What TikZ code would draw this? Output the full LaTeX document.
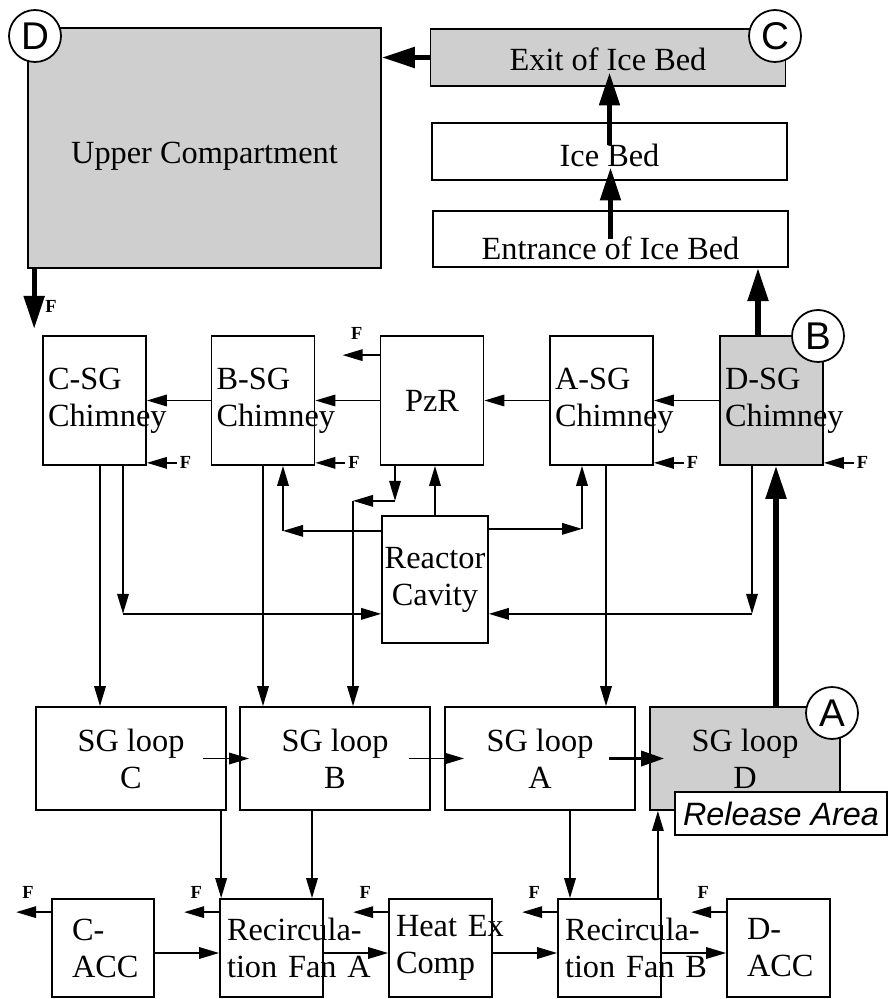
\documentclass[tikz,border=0pt]{standalone}
\usepackage{fontspec}
\setmainfont{Liberation Serif}
\setsansfont{Liberation Sans}
\usetikzlibrary{arrows.meta,calc,positioning}
\hyphenpenalty=10000
\exhyphenpenalty=10000

\begin{document}
\begin{tikzpicture}[x=0.02cm, y=-0.02cm,
    every node/.style={font=\fontsize{18.4}{21}\selectfont},
    blk/.style={draw, line width=1pt, inner sep=0pt},
    gfill/.style={fill=black!19},
    bed/.style={blk, minimum width=7.1cm, minimum height=1.13cm, text depth=0pt},
    chim/.style={blk, text width=1.86cm, inner xsep=0.1cm, minimum height=2.58cm, align=left},
    sgbox/.style={blk, minimum width=3.8cm, minimum height=2.06cm, align=center},
    low/.style={blk, text width=1.78cm, inner xsep=0.14cm, minimum height=1.96cm, align=left},
    tag/.style={circle, draw, line width=1pt, fill=white, minimum size=1.04cm, inner sep=0pt,
        font=\sffamily\fontsize{22}{22}\selectfont},
    flab/.style={font=\bfseries\fontsize{10.5}{10.5}\selectfont, inner sep=1.5pt},
    arr/.style={line width=1pt, -{Stealth[inset=0pt, length=0.4cm, width=0.23cm]}},
    medarr/.style={line width=2pt, -{Stealth[inset=0pt, length=0.46cm, width=0.3cm]}},
    fatarr/.style={line width=3pt, -{Stealth[inset=0pt, length=0.66cm, width=0.4cm]}}]
    \useasboundingbox (0,0) rectangle (889,999);
    % ice condenser
    \node[blk, gfill, minimum width=7.06cm, minimum height=4.8cm, text height=0.64cm, text depth=0pt] (upc) at (204.5,148) {Upper Compartment};
    \node[bed, gfill, text height=0.54cm] (exit) at (608,57.5) {Exit of Ice Bed};
    \node[bed, text height=0.62cm] (ice) at (609.5,151.5) {Ice Bed};
    \node[bed, text height=0.84cm] (entr) at (610.5,239) {Entrance of Ice Bed};
    % chimneys
    \node[chim] (csg) at (94.5,400.5) {C-SG\\Chimney};
    \node[chim] (bsg) at (263,400.5) {B-SG\\Chimney};
    \node[chim, align=center] (pzr) at (432,400.5) {PzR};
    \node[chim] (asg) at (601.5,400.5) {A-SG\\Chimney};
    \node[chim, gfill] (dsg) at (771.5,400.5) {D-SG\\Chimney};
    \node[blk, minimum width=2.12cm, minimum height=2.54cm, align=center] (rc) at (435,579.5) {Reactor\\Cavity};
    % SG loops
    \node[sgbox] (sgc) at (131,758.5) {SG loop\\C};
    \node[sgbox] (sgb) at (335,758.5) {SG loop\\B};
    \node[sgbox] (sga) at (540,758.5) {SG loop\\A};
    \node[sgbox, gfill] (sgd) at (745,758.5) {SG loop\\D};
    % lower row
    \node[low, inner xsep=0.4cm, text width=1.24cm] (cacc) at (103,948) {C-\\ACC};
    \node[low] (fana) at (271.5,948) {Recircula-\\tion~Fan~A};
    \node[low] (hex) at (440.5,948) {Heat~Ex\\Comp};
    \node[low] (fanb) at (609.5,948) {Recircula-\\tion~Fan~B};
    \node[low, inner xsep=0.4cm, text width=1.26cm] (dacc) at (778.5,948) {D-\\ACC};

    % path of the release
    \draw[fatarr] (exit.west) -- (exit.west -| upc.east);
    \draw[fatarr] ([yshift=0.12cm]ice.center) -- ($(ice.center |- exit.center)+(0,15)$);
    \draw[fatarr] (entr.center) -- ($(entr.center |- ice.center)+(0,16)$);
    \coordinate (q1) at ($(dsg.north)+(-13.5,0)$);
    \draw[fatarr] (q1) -- (q1 |- entr.south);
    \coordinate (q2) at ($(sgd.north)+(31,0)$);
    \draw[fatarr] (q2) -- (q2 |- dsg.south);
    \coordinate (upc-f) at ($(upc.south west)+(7,60)$);
    \draw[fatarr] (upc.south west -| upc-f) -- (upc-f) node[flab, pos=0.62, right=0.12cm] (upc-fl) {F};

    % chimney row
    \draw[arr] (bsg.west) -- (csg.east);
    \draw[arr] (pzr.west) -- (bsg.east);
    \draw[arr] (asg.west) -- (pzr.east);
    \draw[arr] (dsg.west) -- (asg.east);
    \foreach \n in {csg,bsg,asg,dsg}
    {
    \node[flab, anchor=west] (\n-fl) at ($(\n.south east)+(30,-3)$) {F};
    \draw[arr] (\n-fl.west) -- (\n-fl.west -| \n.east);
    }
    \coordinate (pzr-f) at ($(pzr.north west)+(-37,20)$);
    \draw[arr] (pzr.west |- pzr-f) -- (pzr-f);
    \node[flab] (pzr-fl) at ($(pzr-f)+(14,-22)$) {F};

    % chimneys down to the loops
    \coordinate (q3) at ($(csg.south)+(5.5,0)$);
    \draw[arr] (q3) -- (q3 |- sgc.north);
    \draw[arr] (bsg.south) -- (bsg.south |- sgb.north);
    \coordinate (q4) at ($(asg.south)+(4.5,0)$);
    \draw[arr] (q4) -- (q4 |- sga.north);

    % reactor cavity
    \coordinate (k1) at ($(csg.south)+(28.5,148)$);
    \draw[arr] (csg.south -| k1) -- (k1);
    \draw[arr] (k1) -- (k1 -| rc.west);
    \coordinate (k2) at ($(dsg.south)+(-19.5,148)$);
    \draw[arr] (dsg.south -| k2) -- (k2);
    \draw[arr] (k2) -- (k2 -| rc.east);
    \coordinate (k3) at ($(bsg.south)+(20,65)$);
    \draw[arr] (rc.west |- k3) -- (k3);
    \draw[arr] (k3) -- (k3 |- bsg.south);
    \coordinate (k4) at ($(asg.south)+(-19.5,63)$);
    \draw[arr] (rc.east |- k4) -- (k4);
    \draw[arr] (k4) -- (k4 |- asg.south);
    \draw[arr] (rc.north) -- (rc.north |- pzr.south);
    \coordinate (k5) at ($(pzr.south)+(-37,35)$);
    \coordinate (k6) at ($(pzr.south)+(-79,35)$);
    \draw[arr] (pzr.south -| k5) -- (k5);
    \draw[arr] (k5) -- (k6);
    \draw[arr] (k6) -- (k6 |- sgb.north);

    % loops
    \draw[arr] ($(sgc.east)+(-24,0)$) -- ($(sgb.west)+(10,0)$);
    \draw[arr] ($(sgb.east)+(-22,0)$) -- ($(sga.west)+(20,0)$);
    \draw[medarr] ($(sga.east)+(-27,0)$) -- ($(sgd.west)+(15,0)$);
    \coordinate (q5) at ($(fana.north west)+(2,0)$);
    \draw[arr] (sgc.south -| q5) -- (q5);
    \coordinate (q6) at ($(sgb.south)+(-23,0)$);
    \draw[arr] (q6) -- (q6 |- fana.north);
    \coordinate (q7) at ($(sga.south)+(30,0)$);
    \draw[arr] (q7) -- (q7 |- fanb.north);
    \coordinate (q8) at ($(fanb.north east)+(-4,0)$);
    \draw[arr] (q8) -- (q8 |- sgd.south);

    % lower row
    \foreach \a/\b in {cacc/fana,fana/hex,hex/fanb,fanb/dacc}
    {
    \draw[arr] ($(\a.east)+(0,5)$) -- ($(\b.west)+(0,5)$);
    }
    \foreach \n in {cacc,fana,hex,fanb,dacc}
    {
    \coordinate (\n-f) at ($(\n.north west)+(-35,14)$);
    \draw[arr] (\n.west |- \n-f) -- (\n-f);
    \node[flab] (\n-fl) at ($(\n-f)+(12,-20)$) {F};
    }

    % release area and marks
    \node[blk, fill=white, minimum width=4.24cm, minimum height=0.86cm,
        font=\sffamily\itshape\fontsize{18.4}{21}\selectfont] (rel) at (781,813.5) {Release Area};
    \node[tag] (tD) at (35,36) {D};
    \node[tag] (tC) at (775,36) {C};
    \node[tag] (tB) at (818,336) {B};
    \node[tag] (tA) at (832,713) {A};
\end{tikzpicture}
\end{document}
